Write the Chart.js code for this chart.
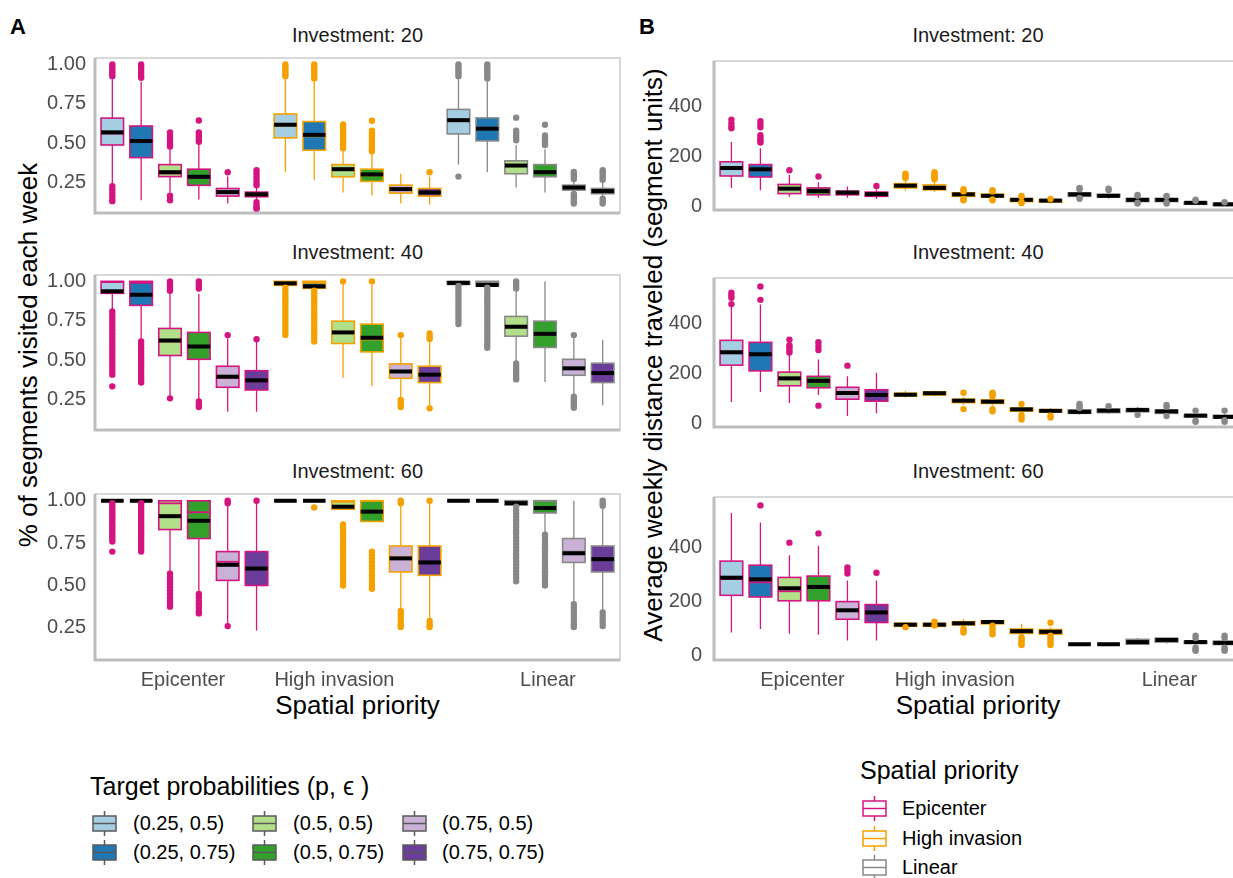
<!DOCTYPE html>
<html>
<head>
<meta charset="utf-8">
<script src="https://cdn.jsdelivr.net/npm/chart.js@4"></script>
<style>
  body { margin: 0; width: 1233px; height: 878px; overflow: hidden; background: #fff;
         font-family: 'Liberation Sans', Arial, sans-serif; position: relative; }
  canvas, svg { position: absolute; }
  .t { position: absolute; white-space: nowrap; transform: translate(-50%, -50%); }
  .tl { position: absolute; white-space: nowrap; transform: translate(0, -50%); }
  .strip { font-size: 20px; color: #1a1a1a; }
  .atitle { font-size: 26px; color: #000; }
  .tag { font-size: 22px; font-weight: bold; color: #000; }
  .rot { transform: translate(-50%, -50%) rotate(-90deg); }
  .lgtitle { font-size: 25px; color: #000; }
  .lglab { font-size: 20px; color: #000; }
</style>
</head>
<body>
<script>
// ---- categories ----
const priorities = ['Epicenter', 'High invasion', 'Linear'];
const targets = ['(0.25, 0.5)', '(0.25, 0.75)', '(0.5, 0.5)', '(0.5, 0.75)', '(0.75, 0.5)', '(0.75, 0.75)'];
const investments = [20, 40, 60];
const yTicksA = [0.25, 0.5, 0.75, 1.0];
const yTicksB = [0, 200, 400];
const xTickPos = [2.45, 7.7, 15.1];

// ---- panel A: % of segments visited each week ----
const a20Q1   = [0.49, 0.41, 0.29, 0.235, 0.167, 0.163, 0.535, 0.457, 0.289, 0.26, 0.186, 0.167, 0.56, 0.516, 0.308, 0.289, 0.205, 0.182];
const a20Q3   = [0.66, 0.61, 0.366, 0.337, 0.215, 0.192, 0.686, 0.638, 0.366, 0.337, 0.236, 0.215, 0.715, 0.661, 0.39, 0.366, 0.236, 0.215];
const a20Mean = [0.57, 0.515, 0.318, 0.289, 0.192, 0.178, 0.618, 0.554, 0.337, 0.304, 0.211, 0.19, 0.647, 0.593, 0.36, 0.318, 0.221, 0.198];
const a20Med  = [0.562, 0.51, 0.31, 0.283, 0.188, 0.176, 0.612, 0.545, 0.334, 0.298, 0.208, 0.188, 0.64, 0.588, 0.357, 0.315, 0.218, 0.196];
const a20Lo   = [0.25, 0.14, 0.19, 0.145, 0.12, 0.14, 0.318, 0.27, 0.19, 0.17, 0.12, 0.114, 0.366, 0.318, 0.221, 0.19, 0.19, 0.16];
const a20Hi   = [0.905, 0.89, 0.465, 0.49, 0.29, 0.225, 0.905, 0.9, 0.463, 0.434, 0.308, 0.29, 0.905, 0.89, 0.49, 0.463, 0.26, 0.25];
const a20Out  = [
  [1.0, 0.985, 0.97, 0.955, 0.94, 0.925, 0.23, 0.21, 0.19, 0.17, 0.15, 0.135],
  [1.0, 0.985, 0.97, 0.95, 0.93, 0.915],
  [0.57, 0.555, 0.54, 0.525, 0.51, 0.495, 0.48, 0.17, 0.155, 0.14],
  [0.645, 0.57, 0.555, 0.54, 0.525, 0.51],
  [0.318],
  [0.33, 0.31, 0.29, 0.27, 0.25, 0.235, 0.128, 0.11, 0.095, 0.085],
  [1.0, 0.985, 0.97, 0.955, 0.94, 0.925],
  [1.0, 0.985, 0.97, 0.955, 0.94, 0.925, 0.91],
  [0.62, 0.605, 0.59, 0.575, 0.56, 0.545, 0.53, 0.515, 0.5, 0.485, 0.47],
  [0.643, 0.58, 0.565, 0.55, 0.535, 0.52, 0.505, 0.49, 0.475, 0.46, 0.45],
  [],
  [0.318],
  [1.0, 0.985, 0.97, 0.955, 0.94, 0.925, 0.29],
  [1.0, 0.985, 0.97, 0.955, 0.94, 0.925, 0.91],
  [0.663, 0.58, 0.565, 0.55, 0.535, 0.52],
  [0.618, 0.55, 0.535, 0.52, 0.505, 0.49],
  [0.32, 0.305, 0.29, 0.275, 0.18, 0.165, 0.15, 0.135, 0.12],
  [0.33, 0.315, 0.3, 0.285, 0.27, 0.15, 0.135, 0.12]
];

const a40Q1   = [0.924, 0.848, 0.531, 0.507, 0.33, 0.313, 0.975, 0.956, 0.607, 0.554, 0.387, 0.36, 0.98, 0.97, 0.653, 0.582, 0.406, 0.36];
const a40Q3   = [1.0, 1.0, 0.702, 0.677, 0.463, 0.435, 1.0, 1.0, 0.748, 0.729, 0.478, 0.463, 1.0, 1.0, 0.778, 0.748, 0.507, 0.482];
const a40Mean = [0.937, 0.915, 0.626, 0.588, 0.397, 0.374, 0.987, 0.968, 0.677, 0.643, 0.43, 0.41, 0.99, 0.977, 0.713, 0.668, 0.45, 0.42];
const a40Med  = [0.995, 0.99, 0.62, 0.585, 0.39, 0.368, 0.995, 0.99, 0.672, 0.632, 0.43, 0.408, 0.995, 0.992, 0.708, 0.66, 0.445, 0.418];
const a40Lo   = [0.82, 0.63, 0.27, 0.25, 0.175, 0.175, 0.97, 0.95, 0.39, 0.336, 0.26, 0.21, 0.975, 0.97, 0.49, 0.364, 0.28, 0.216];
const a40Hi   = [1.0, 1.0, 0.93, 0.92, 0.64, 0.63, 1.0, 1.0, 0.985, 0.98, 0.64, 0.64, 1.0, 1.0, 0.934, 1.0, 0.64, 0.63];
const a40Out  = [
  [0.81, 0.79, 0.77, 0.75, 0.73, 0.71, 0.69, 0.67, 0.65, 0.63, 0.61, 0.59, 0.57, 0.55, 0.53, 0.51, 0.49, 0.47, 0.45, 0.43, 0.41, 0.336],
  [0.62, 0.6, 0.58, 0.56, 0.54, 0.52, 0.5, 0.48, 0.46, 0.44, 0.42, 0.4, 0.38, 0.36],
  [1.0, 0.985, 0.97, 0.955, 0.94, 0.26],
  [1.0, 0.985, 0.97, 0.955, 0.24, 0.22, 0.205],
  [0.66],
  [0.634],
  [0.96, 0.94, 0.92, 0.9, 0.88, 0.86, 0.84, 0.82, 0.8, 0.78, 0.76, 0.74, 0.72, 0.7, 0.68, 0.66],
  [0.94, 0.92, 0.9, 0.88, 0.86, 0.84, 0.82, 0.8, 0.78, 0.76, 0.74, 0.72, 0.7, 0.68, 0.66, 0.64, 0.62],
  [1.0],
  [1.0],
  [0.66, 0.25, 0.235, 0.22, 0.205],
  [0.67, 0.65, 0.635, 0.197],
  [0.97, 0.95, 0.93, 0.91, 0.89, 0.87, 0.85, 0.83, 0.81, 0.79, 0.77, 0.75, 0.73],
  [0.96, 0.94, 0.92, 0.9, 0.88, 0.86, 0.84, 0.82, 0.8, 0.78, 0.76, 0.74, 0.72, 0.7, 0.68, 0.66, 0.64, 0.62, 0.6, 0.58],
  [1.0, 0.985, 0.97, 0.955, 0.48, 0.465, 0.45, 0.435, 0.42, 0.405, 0.39, 0.38],
  [],
  [0.66, 0.27, 0.255, 0.24, 0.225, 0.21, 0.2],
  []
];

const a60Q1   = [1.0, 1.0, 0.83, 0.777, 0.53, 0.5, 1.0, 1.0, 0.95, 0.878, 0.58, 0.56, 1.0, 1.0, 0.975, 0.928, 0.636, 0.58];
const a60Q3   = [1.0, 1.0, 1.0, 1.0, 0.7, 0.7, 1.0, 1.0, 1.0, 1.0, 0.733, 0.733, 1.0, 1.0, 1.0, 1.0, 0.777, 0.733];
const a60Mean = [1.0, 1.0, 0.909, 0.882, 0.622, 0.6, 1.0, 1.0, 0.965, 0.936, 0.66, 0.636, 1.0, 1.0, 0.986, 0.957, 0.69, 0.655];
const a60Med  = [1.0, 1.0, 0.985, 0.932, 0.64, 0.6, 1.0, 1.0, 0.994, 1.0, 0.666, 0.636, 1.0, 1.0, 1.0, 1.0, 0.7, 0.655];
const a60Lo   = [1.0, 1.0, 0.574, 0.45, 0.27, 0.234, 1.0, 1.0, 0.95, 0.878, 0.35, 0.29, 1.0, 1.0, 0.97, 0.816, 0.39, 0.35];
const a60Hi   = [1.0, 1.0, 1.0, 1.0, 0.97, 1.0, 1.0, 1.0, 1.0, 1.0, 0.98, 1.0, 1.0, 1.0, 1.0, 1.0, 1.0, 0.98];
const a60Out  = [
  [0.985, 0.97, 0.955, 0.94, 0.925, 0.91, 0.895, 0.88, 0.865, 0.85, 0.835, 0.82, 0.805, 0.79, 0.775, 0.76, 0.7],
  [0.985, 0.97, 0.955, 0.94, 0.925, 0.91, 0.895, 0.88, 0.865, 0.85, 0.835, 0.82, 0.805, 0.79, 0.775, 0.76, 0.745, 0.73, 0.715, 0.7],
  [0.57, 0.55, 0.53, 0.51, 0.49, 0.47, 0.45, 0.43, 0.41, 0.39, 0.375],
  [0.45, 0.43, 0.41, 0.39, 0.37, 0.35, 0.335],
  [1.0, 0.985, 0.26],
  [1.0],
  [],
  [0.96],
  [0.86, 0.84, 0.82, 0.8, 0.78, 0.76, 0.74, 0.72, 0.7, 0.68, 0.66, 0.64, 0.62, 0.6, 0.58, 0.56, 0.54, 0.52, 0.5],
  [0.7, 0.68, 0.66, 0.64, 0.62, 0.6, 0.58, 0.56, 0.54, 0.52, 0.5, 0.48],
  [1.0, 0.985, 0.35, 0.33, 0.31, 0.29, 0.27, 0.255],
  [1.0, 0.29, 0.27, 0.255],
  [],
  [],
  [0.965, 0.945, 0.925, 0.905, 0.885, 0.865, 0.845, 0.825, 0.805, 0.785, 0.765, 0.745, 0.725, 0.705, 0.685, 0.665, 0.645, 0.625, 0.605, 0.585, 0.565, 0.545, 0.525],
  [0.8, 0.78, 0.76, 0.74, 0.72, 0.7, 0.68, 0.66, 0.64, 0.62, 0.6, 0.58, 0.56, 0.54, 0.52, 0.5],
  [0.39, 0.37, 0.35, 0.33, 0.31, 0.29, 0.27, 0.255],
  [1.0, 0.985, 0.97, 0.34, 0.32, 0.3, 0.28, 0.26]
];

// ---- panel B: average weekly distance traveled ----
const b20Q1   = [122, 118, 51, 46, 46, 40, 74, 66, 40, 38, 19, 17, 40, 38, 19, 19, 8, 3];
const b20Q3   = [179, 168, 88, 74, 61, 57, 91, 86, 54, 49, 31, 26, 54, 48, 31, 31, 17, 11];
const b20Mean = [154, 149, 71, 61, 55, 49, 83, 74, 48, 42, 26, 23, 48, 42, 26, 26, 14, 8];
const b20Med  = [150, 145, 69, 60, 54, 47, 82, 73, 47, 41, 25, 22, 47, 41, 25, 25, 13, 7];
const b20Lo   = [74, 65, 38, 34, 34, 29, 63, 57, 30, 28, 12, 12, 30, 30, 12, 12, 5, 2];
const b20Hi   = [259, 234, 126, 97, 80, 69, 103, 97, 62, 58, 38, 32, 66, 58, 38, 38, 22, 16];
const b20Out  = [
  [349, 335, 322, 314], [343, 330, 318, 286, 275, 265, 257], [145], [120], [], [82],
  [131, 125, 119, 114], [137, 131, 125, 119, 114, 109], [69, 64, 60, 30, 27, 24], [65, 60, 27, 24], [42, 38, 16, 13], [29],
  [74, 69, 34, 30], [71, 66], [46, 42, 14, 11], [42, 38, 14, 11], [26, 22], [16]
];

const b40Q1   = [234, 211, 151, 143, 97, 89, 110, 114, 83, 80, 49, 46, 40, 43, 46, 40, 25, 21];
const b40Q3   = [334, 326, 206, 189, 145, 135, 121, 126, 97, 94, 61, 55, 54, 57, 57, 53, 34, 31];
const b40Mean = [286, 278, 181, 171, 122, 114, 115, 121, 91, 87, 56, 50, 46, 51, 54, 48, 31, 26];
const b40Med  = [282, 275, 177, 168, 119, 111, 115, 120, 90, 86, 55, 49, 46, 50, 53, 47, 30, 25];
const b40Lo   = [86, 126, 82, 114, 29, 40, 103, 108, 75, 72, 40, 38, 34, 37, 38, 34, 15, 12];
const b40Hi   = [478, 478, 280, 257, 189, 203, 131, 131, 105, 103, 70, 62, 62, 69, 66, 62, 42, 38];
const b40Out  = [
  [526, 515, 505, 480], [551, 497], [337, 314, 305, 295, 285], [326, 310, 295, 71], [232], [],
  [], [], [123, 57], [123, 116, 109, 57, 48], [78, 34, 25, 15], [31, 23],
  [78, 70, 62], [69], [34], [74, 67, 29], [51, 10, 6], [51, 12, 6]
];

const b60Q1   = [223, 217, 203, 203, 135, 123, 109, 109, 114, 118, 83, 80, 43, 43, 43, 51, 46, 42];
const b60Q3   = [349, 334, 289, 294, 200, 189, 120, 120, 126, 129, 99, 97, 43, 43, 61, 65, 54, 54];
const b60Mean = [288, 282, 249, 254, 168, 160, 115, 115, 120, 125, 91, 89, 43, 43, 51, 59, 51, 48];
const b60Med  = [283, 271, 238, 250, 165, 157, 115, 115, 120, 125, 90, 88, 43, 43, 51, 58, 50, 47];
const b60Lo   = [86, 99, 82, 78, 57, 57, 106, 106, 109, 111, 75, 74, 43, 43, 40, 46, 40, 38];
const b60Hi   = [526, 491, 371, 406, 278, 278, 124, 124, 135, 133, 118, 106, 43, 43, 66, 66, 62, 62];
const b60Out  = [
  [], [554], [417], [451], [326, 315, 303], [306],
  [106], [126, 112], [99, 92, 86], [111, 100, 90, 80], [69, 60, 52, 44, 40], [122, 74, 66, 57, 48, 40],
  [], [], [], [], [74, 66, 30, 24, 19], [74, 66, 30, 24, 19]
];

// ---- styles ----
const fillColors = ['#A6CEE3', '#1F78B4', '#B2DF8A', '#33A02C', '#CAB2D6', '#6A3D9A'];
const edgeColors = ['#D4157F', '#F4A100', '#888888'];
const halfW = 0.39;

Chart.defaults.font.family = "'Liberation Sans', Arial, sans-serif";

function el(cls, text, x, y) {
  const d = document.createElement('div');
  d.className = cls;
  d.textContent = text;
  d.style.left = x + 'px';
  d.style.top = y + 'px';
  document.body.appendChild(d);
  return d;
}

// boxes, whiskers, medians and means drawn through the chart's scales
function boxPlugin(st) {
  return {
    id: 'boxes',
    beforeDatasetsDraw(chart) {
      const { ctx, scales: { x, y } } = chart;
      ctx.save();
      for (let i = 0; i < st.q1.length; i++) {
        const col = edgeColors[Math.floor(i / 6)];
        const x0 = x.getPixelForValue(i - halfW), x1 = x.getPixelForValue(i + halfW);
        const xc = x.getPixelForValue(i);
        const y1 = y.getPixelForValue(st.q1[i]), y3 = y.getPixelForValue(st.q3[i]);
        ctx.strokeStyle = col;
        ctx.lineWidth = 1.3;
        ctx.beginPath();
        ctx.moveTo(xc, y3); ctx.lineTo(xc, y.getPixelForValue(st.hi[i]));
        ctx.moveTo(xc, y1); ctx.lineTo(xc, y.getPixelForValue(st.lo[i]));
        ctx.stroke();
        ctx.fillStyle = fillColors[i % 6];
        ctx.fillRect(x0, y3, x1 - x0, y1 - y3);
        ctx.lineWidth = 1.6;
        ctx.strokeRect(x0, y3, x1 - x0, y1 - y3);
        const ym = y.getPixelForValue(st.med[i]);
        ctx.lineWidth = 1.8;
        ctx.beginPath(); ctx.moveTo(x0, ym); ctx.lineTo(x1, ym); ctx.stroke();
        const ya = y.getPixelForValue(st.mean[i]);
        ctx.strokeStyle = '#000';
        ctx.lineWidth = 4;
        ctx.beginPath(); ctx.moveTo(x0, ya); ctx.lineTo(x1, ya); ctx.stroke();
      }
      ctx.restore();
    }
  };
}

const borderPlugin = {
  id: 'panelBorder',
  afterDraw(chart) {
    const { ctx, chartArea: a } = chart;
    ctx.save();
    ctx.strokeStyle = '#c8c8c8';
    ctx.lineWidth = 1.4;
    ctx.strokeRect(a.left, a.top, a.right - a.left, a.bottom - a.top);
    ctx.strokeStyle = '#bdbdbd';
    ctx.lineWidth = 3;
    ctx.beginPath();
    ctx.moveTo(a.left, a.top); ctx.lineTo(a.left, a.bottom); ctx.lineTo(a.right, a.bottom);
    ctx.stroke();
    ctx.restore();
  }
};

const facetTops = [51, 268, 487];
const facetH = 173;
const padTop = 14;
const panels = [
  { tag: 'A', tagX: 18, plotLeft: 95, plotW: 525, yMin: 0.06, yMax: 1.04, ticks: yTicksA, fmt: v => v.toFixed(2), pad: 9,
    title: '% of segments visited each week', titleX: 28,
    facets: [
      { q1: a20Q1, q3: a20Q3, mean: a20Mean, med: a20Med, lo: a20Lo, hi: a20Hi, out: a20Out },
      { q1: a40Q1, q3: a40Q3, mean: a40Mean, med: a40Med, lo: a40Lo, hi: a40Hi, out: a40Out },
      { q1: a60Q1, q3: a60Q3, mean: a60Mean, med: a60Med, lo: a60Lo, hi: a60Hi, out: a60Out }
    ] },
  { tag: 'B', tagX: 647, plotLeft: 714, plotW: 528, yMin: -15, yMax: 585, ticks: yTicksB, fmt: v => String(v), pad: 12,
    title: 'Average weekly distance traveled (segment units)', titleX: 653,
    facets: [
      { q1: b20Q1, q3: b20Q3, mean: b20Mean, med: b20Med, lo: b20Lo, hi: b20Hi, out: b20Out },
      { q1: b40Q1, q3: b40Q3, mean: b40Mean, med: b40Med, lo: b40Lo, hi: b40Hi, out: b40Out },
      { q1: b60Q1, q3: b60Q3, mean: b60Mean, med: b60Med, lo: b60Lo, hi: b60Hi, out: b60Out }
    ] }
];

const yAxisW = 70, padRight = 12, xAxisH = 36;

panels.forEach(p => {
  const cx = p.plotLeft + p.plotW / 2;
  el('t tag', p.tag, p.tagX, 27);
  el('t atitle', 'Spatial priority', cx, 705);
  el('t atitle rot', p.title, p.titleX, 355);

  p.facets.forEach((st, f) => {
    const bottomFacet = f === 2;
    el('t strip', 'Investment: ' + investments[f], cx, facetTops[f] - 16);
    const cv = document.createElement('canvas');
    const w = yAxisW + p.plotW + padRight;
    const h = padTop + facetH + (bottomFacet ? xAxisH : 10);
    cv.width = w; cv.height = h;
    cv.style.left = (p.plotLeft - yAxisW) + 'px';
    cv.style.top = (facetTops[f] - padTop) + 'px';
    document.body.appendChild(cv);

    const datasets = edgeColors.map(c => ({
      data: [], backgroundColor: c, borderColor: c, borderWidth: 0,
      pointRadius: 3.2, pointHoverRadius: 3.2, clip: false
    }));
    st.out.forEach((vals, i) => vals.forEach(v => datasets[Math.floor(i / 6)].data.push({ x: i, y: v })));

    new Chart(cv, {
      type: 'scatter',
      data: { datasets },
      options: {
        responsive: false,
        animation: false,
        events: [],
        layout: { padding: { left: 0, right: padRight, top: padTop, bottom: bottomFacet ? 0 : 10 } },
        plugins: { legend: { display: false }, tooltip: { enabled: false } },
        scales: {
          x: {
            type: 'linear', min: -0.6, max: 17.6,
            display: bottomFacet,
            border: { display: false },
            grid: { display: false, drawTicks: false },
            afterBuildTicks: s => { s.ticks = xTickPos.map(v => ({ value: v })); },
            afterFit: s => { s.height = bottomFacet ? xAxisH : 0; },
            ticks: { autoSkip: false, maxRotation: 0, padding: 8, color: '#4d4d4d', font: { size: 20 },
                     callback: (v, i) => priorities[i] }
          },
          y: {
            min: p.yMin, max: p.yMax,
            border: { display: false },
            grid: { display: false, drawTicks: false },
            afterBuildTicks: s => { s.ticks = p.ticks.map(v => ({ value: v })); },
            afterFit: s => { s.width = yAxisW; },
            ticks: { padding: p.pad, color: '#4d4d4d', font: { size: 20 }, callback: v => p.fmt(v) }
          }
        }
      },
      plugins: [boxPlugin(st), borderPlugin]
    });
  });
});

// ---- legends (boxplot key glyphs) ----
const SVGNS = 'http://www.w3.org/2000/svg';
function key(x, y, fill, edge) {
  const s = document.createElementNS(SVGNS, 'svg');
  s.setAttribute('width', 25);
  s.setAttribute('height', 25);
  s.style.left = (x - 1) + 'px';
  s.style.top = (y - 12.5) + 'px';
  const parts = [
    ['line', { x1: 12.5, y1: 0, x2: 12.5, y2: 5 }],
    ['line', { x1: 12.5, y1: 20, x2: 12.5, y2: 25 }],
    ['rect', { x: 1, y: 5, width: 23, height: 15, fill: fill }],
    ['line', { x1: 1, y1: 12.5, x2: 24, y2: 12.5 }]
  ];
  parts.forEach(([tag, attrs]) => {
    const n = document.createElementNS(SVGNS, tag);
    Object.entries(attrs).forEach(([k, v]) => n.setAttribute(k, v));
    n.setAttribute('stroke', edge);
    n.setAttribute('stroke-width', 1.5);
    s.appendChild(n);
  });
  document.body.appendChild(s);
}

el('tl lgtitle', 'Target probabilities (p, \u03F5 )', 90, 786);
const keyCols = [93, 253, 403], labCols = [133, 293, 442], keyRows = [823, 852];
targets.forEach((t, i) => {
  const c = Math.floor(i / 2), r = i % 2;
  key(keyCols[c], keyRows[r], fillColors[i], '#595959');
  el('tl lglab', t, labCols[c], keyRows[r]);
});

el('tl lgtitle', 'Spatial priority', 860, 770);
const prRows = [808, 838, 867];
priorities.forEach((p, i) => {
  key(863, prRows[i], '#fff', edgeColors[i]);
  el('tl lglab', p, 902, prRows[i]);
});
</script>
</body>
</html>
